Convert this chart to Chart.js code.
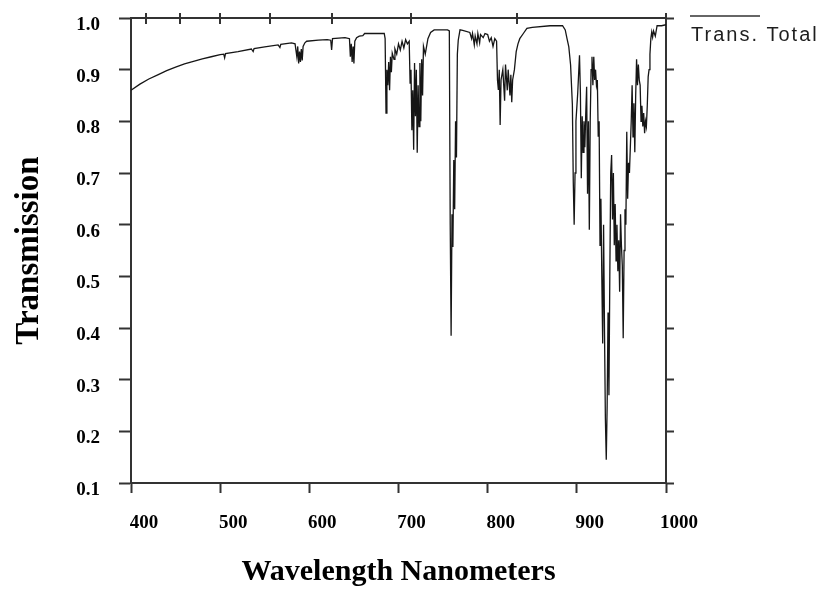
<!DOCTYPE html>
<html lang="en">
<head>
  <meta charset="UTF-8">
  <title>Transmission</title>
  <script src="https://cdn.jsdelivr.net/npm/chart.js"></script>
  <style>
    body { margin: 0; background: #fff; }
  </style>
</head>
<body>
  <canvas id="specChart" width="821" height="590"></canvas>

  <script>
    const seriesName = 'Trans. Total';

    // wavelength (nm) and transmission
    const wavelength = [
      400, 410, 420, 430, 440, 450, 460, 470, 480, 490, 500, 504, 505, 506, 520, 535, 537, 538, 550, 565,
      567, 568, 580, 584, 586, 587, 588, 589, 590, 591, 592, 593, 595, 597, 610, 620, 624, 625, 626, 640,
      645, 646, 647, 648, 649, 650, 651, 653, 656, 660, 662, 684, 685, 686, 687, 688, 689, 690, 691, 692,
      693, 695, 696, 698, 700, 702, 704, 706, 708, 710, 712, 713, 714, 715, 716, 717, 718, 719, 720, 721,
      722, 723, 724, 725, 726, 727, 728, 730, 733, 736, 740, 755, 757, 758, 759, 760, 761, 762, 763, 764,
      765, 766, 767, 769, 772, 780, 782, 783, 785, 786, 788, 789, 791, 792, 795, 797, 800, 802, 804, 806,
      808, 810, 811, 812, 813, 814, 815, 817, 819, 820, 822, 823, 825, 826, 827, 828, 830, 832, 834, 836,
      840, 844, 850, 870, 884, 887, 889, 891, 893, 895, 896, 897, 898, 899, 901, 903, 904, 905, 906, 907,
      908, 909, 910, 911, 912, 913, 914, 915, 916, 917, 918, 919, 920, 921, 922, 923, 924, 925, 926, 927,
      928, 929, 930, 931, 932, 933, 934, 935, 936, 937, 938, 939, 940, 941, 942, 943, 944, 945, 946, 947,
      948, 949, 950, 951, 952, 953, 954, 955, 956, 957, 958, 959, 961, 962, 963, 964, 965, 966, 967, 968,
      969, 970, 971, 972, 973, 974, 975, 976, 977, 978, 979, 980, 981, 982, 983, 984, 985, 986, 988, 990,
      995, 1000
    ];
    const transmission = [
      0.860, 0.872, 0.882, 0.890, 0.898, 0.905, 0.911, 0.916, 0.921, 0.925, 0.929, 0.930, 0.923, 0.931, 0.935, 0.940, 0.935, 0.941, 0.944, 0.948,
      0.943, 0.949, 0.952, 0.950, 0.925, 0.945, 0.912, 0.935, 0.915, 0.940, 0.918, 0.945, 0.952, 0.955, 0.957, 0.958, 0.957, 0.938, 0.960, 0.962,
      0.960, 0.925, 0.950, 0.915, 0.945, 0.912, 0.955, 0.962, 0.965, 0.966, 0.970, 0.970, 0.960, 0.816, 0.900, 0.870, 0.915, 0.860, 0.925, 0.895,
      0.932, 0.920, 0.940, 0.930, 0.950, 0.938, 0.955, 0.942, 0.958, 0.950, 0.955, 0.874, 0.900, 0.783, 0.860, 0.745, 0.913, 0.810, 0.900, 0.739,
      0.870, 0.790, 0.913, 0.800, 0.920, 0.850, 0.945, 0.930, 0.960, 0.972, 0.977, 0.977, 0.975, 0.600, 0.385, 0.620, 0.557, 0.725, 0.630, 0.800,
      0.730, 0.930, 0.957, 0.977, 0.976, 0.972, 0.960, 0.970, 0.948, 0.965, 0.950, 0.970, 0.952, 0.968, 0.962, 0.970, 0.968, 0.955, 0.962, 0.945,
      0.960, 0.955, 0.880, 0.861, 0.900, 0.793, 0.880, 0.900, 0.840, 0.910, 0.860, 0.900, 0.850, 0.890, 0.837, 0.880, 0.900, 0.935, 0.950, 0.960,
      0.970, 0.980, 0.982, 0.985, 0.985, 0.977, 0.960, 0.944, 0.909, 0.832, 0.683, 0.600, 0.700, 0.800, 0.855, 0.928, 0.855, 0.690, 0.810, 0.740,
      0.800, 0.750, 0.815, 0.867, 0.660, 0.800, 0.590, 0.800, 0.900, 0.925, 0.870, 0.925, 0.880, 0.900, 0.870, 0.880, 0.770, 0.800, 0.560, 0.650,
      0.500, 0.370, 0.600, 0.400, 0.226, 0.145, 0.250, 0.430, 0.270, 0.503, 0.700, 0.735, 0.610, 0.700, 0.560, 0.640, 0.530, 0.600, 0.510, 0.570,
      0.470, 0.620, 0.560, 0.520, 0.380, 0.550, 0.630, 0.600, 0.780, 0.650, 0.720, 0.700, 0.800, 0.870, 0.770, 0.835, 0.740, 0.850, 0.920, 0.870,
      0.910, 0.880, 0.870, 0.800, 0.830, 0.790, 0.816, 0.777, 0.800, 0.790, 0.830, 0.886, 0.900, 0.930, 0.960, 0.973, 0.963, 0.975, 0.965, 0.985,
      0.985, 0.987
    ];

    const xTicks = [400, 500, 600, 700, 800, 900, 1000];
    const yTicks = [0.1, 0.2, 0.3, 0.4, 0.5, 0.6, 0.7, 0.8, 0.9, 1.0];
    // unlabelled ticks on the top edge, in wavenumbers (cm-1)
    const topTicksWavenumber = [24000, 22000, 20000, 18000, 16000, 14000, 12000, 10000];

    const serif = '"Liberation Serif", "Times New Roman", serif';
    const axisColor = '#333';

    const legendPlugin = {
      id: 'overLegend',
      afterDraw(chart) {
        const { ctx, chartArea } = chart;
        const x0 = chartArea.right + 24;
        ctx.save();
        ctx.strokeStyle = axisColor;
        ctx.lineWidth = 1.5;
        ctx.beginPath();
        ctx.moveTo(x0, 16);
        ctx.lineTo(x0 + 70, 16);
        ctx.stroke();
        ctx.font = '20px "Liberation Sans", Arial, sans-serif';
        ctx.letterSpacing = '2px';
        ctx.fillStyle = '#1e1e1e';
        ctx.textBaseline = 'alphabetic';
        ctx.fillText(chart.data.datasets[0].label, x0 + 1, 41);
        ctx.restore();
      }
    };

    // fixed box sizes so the plot frame lands where the original has it
    const fixSize = (w, h) => s => {
      if (w !== null) s.width = w;
      if (h !== null) s.height = h;
      s.paddingTop = 0;
      s.paddingBottom = 0;
      s.paddingLeft = 0;
      s.paddingRight = 0;
    };

    const ctx = document.getElementById('specChart').getContext('2d');
    const specChart = new Chart(ctx, {
      type: 'line',
      data: {
        datasets: [{
          label: seriesName,
          data: wavelength.map((w, i) => ({ x: w, y: transmission[i] })),
          borderColor: '#161616',
          borderWidth: 1.3,
          pointRadius: 0,
          tension: 0
        }]
      },
      options: {
        responsive: false,
        animation: false,
        layout: { padding: 0 },
        plugins: {
          legend: { display: false },
          tooltip: { enabled: false }
        },
        scales: {
          x: {
            type: 'linear',
            position: 'bottom',
            min: 400,
            max: 1000,
            afterBuildTicks: s => { s.ticks = xTicks.map(v => ({ value: v })); },
            afterFit: fixSize(null, 107),
            ticks: {
              color: '#000',
              font: { family: serif, size: 19, weight: 'bold' },
              padding: 19,
              labelOffset: 13,
              maxRotation: 0,
              callback: v => String(v)
            },
            grid: { drawOnChartArea: false, tickLength: 10, tickWidth: 2, tickColor: axisColor },
            border: { color: axisColor, width: 2 },
            title: {
              display: true,
              text: 'Wavelength Nanometers',
              color: '#000',
              font: { family: serif, size: 30, weight: 'bold' },
              padding: { top: 0, bottom: 0 }
            }
          },
          x2: {
            type: 'linear',
            position: 'top',
            min: 400,
            max: 1000,
            afterBuildTicks: s => { s.ticks = topTicksWavenumber.map(k => ({ value: 1e7 / k })); },
            afterFit: fixSize(null, 18),
            ticks: { display: false },
            grid: { drawOnChartArea: true, lineWidth: 2, color: axisColor, tickLength: 5, tickWidth: 2, tickColor: axisColor },
            border: { color: axisColor, width: 2, dash: [5, 2000] }
          },
          y: {
            type: 'linear',
            position: 'left',
            min: 0.1,
            max: 1.0,
            afterBuildTicks: s => { s.ticks = yTicks.map(v => ({ value: v })); },
            afterFit: fixSize(131, null),
            ticks: {
              color: '#000',
              font: { family: serif, size: 19, weight: 'bold' },
              padding: 19,
              labelOffset: 7,
              callback: v => v.toFixed(1)
            },
            grid: { drawOnChartArea: false, tickLength: 12, tickWidth: 2, tickColor: axisColor },
            border: { color: axisColor, width: 2 },
            title: {
              display: true,
              text: 'Transmission',
              color: '#000',
              font: { family: serif, size: 33, weight: 'bold' },
              padding: { top: 10, bottom: 0 }
            }
          },
          y2: {
            type: 'linear',
            position: 'right',
            min: 0.1,
            max: 1.0,
            afterBuildTicks: s => { s.ticks = yTicks.map(v => ({ value: v })); },
            afterFit: fixSize(155, null),
            ticks: { display: false },
            grid: { drawOnChartArea: false, tickLength: 8, tickWidth: 2, tickColor: axisColor },
            border: { color: axisColor, width: 2 }
          }
        }
      },
      plugins: [legendPlugin]
    });
  </script>
</body>
</html>
